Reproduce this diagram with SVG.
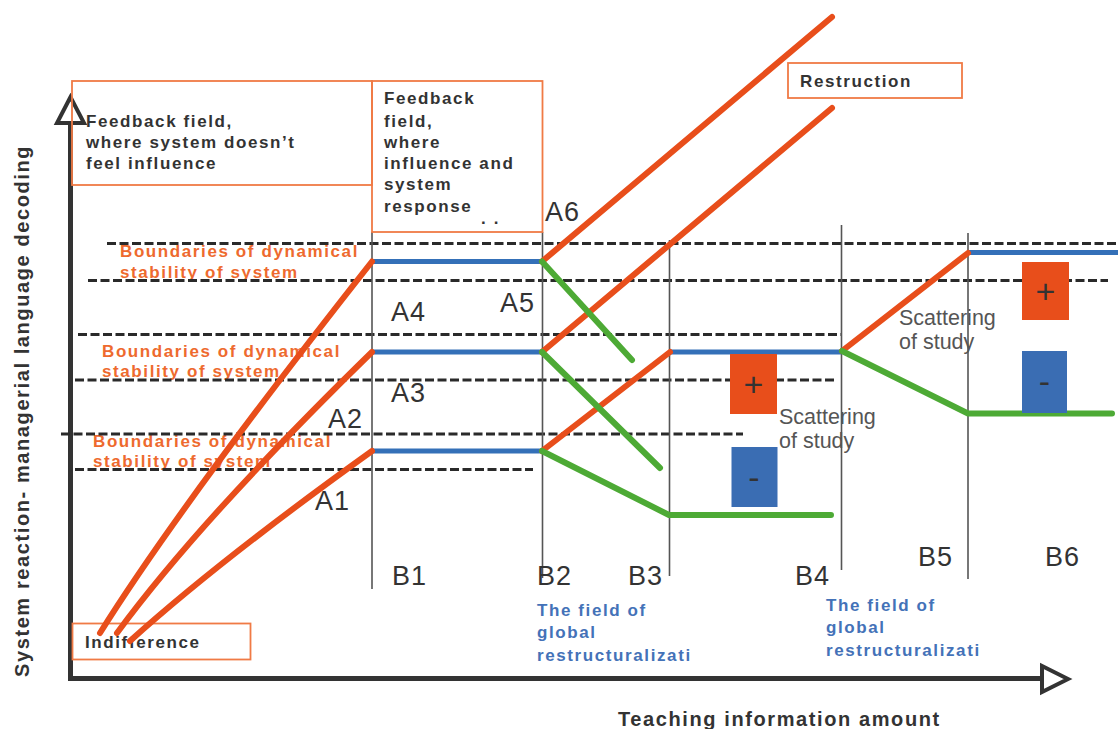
<svg xmlns="http://www.w3.org/2000/svg" width="1118" height="729" viewBox="0 0 1118 729">
<style>
.bg{fill:#fff}
.box{fill:none;stroke:#F07A45;stroke-width:1.8}
.bt{font-family:"Liberation Sans",Arial,sans-serif;font-weight:bold;font-size:17px;letter-spacing:1.6px;fill:#333}
.ot{font-family:"Liberation Sans",Arial,sans-serif;font-weight:bold;font-size:17px;letter-spacing:1.6px;fill:#EE6A2E}
.blt{font-family:"Liberation Sans",Arial,sans-serif;font-weight:bold;font-size:17px;letter-spacing:1.6px;fill:#4472B8}
.lab{font-family:"Liberation Sans",Arial,sans-serif;font-size:27px;letter-spacing:1px;fill:#333}
.sc{font-family:"Liberation Sans",Arial,sans-serif;font-size:21.5px;fill:#555}
.ax{font-family:"Liberation Sans",Arial,sans-serif;font-weight:bold;font-size:20px;letter-spacing:1.6px;fill:#333}
.pm{font-family:"Liberation Sans",Arial,sans-serif;font-size:34px;fill:#333;text-anchor:middle}
.dash{stroke:#2a2a2a;stroke-width:3.2;stroke-dasharray:9 3.5;fill:none}
.vl{stroke:#555;stroke-width:1.6;fill:none}
.or{stroke:#E84E1B;stroke-width:6;stroke-linecap:round;fill:none}
.bl{stroke:#3470B8;stroke-width:5;fill:none}
.gr{stroke:#4DAA35;stroke-width:6;stroke-linecap:round;stroke-linejoin:round;fill:none}
.axl{stroke:#333;stroke-width:5;fill:none}
.arr{fill:#fff;stroke:#333;stroke-width:4;stroke-linejoin:miter}
</style>
<rect class="bg" x="0" y="0" width="1118" height="729"/>

<g id="axes">
<line class="axl" x1="70.5" y1="120" x2="70.5" y2="681"/>
<line class="axl" x1="68" y1="678.5" x2="1042" y2="678.5"/>
<polygon class="arr" points="70.5,97 57,123 84,123"/>
<polygon class="arr" points="1068,679 1042,666 1042,692"/>
</g>

<g id="boundary-labels">
<text class="ot" x="120" y="257">Boundaries of dynamical</text>
<text class="ot" x="120" y="278">stability of system</text>
<text class="ot" x="102" y="357">Boundaries of dynamical</text>
<text class="ot" x="102" y="377">stability of system</text>
<text class="ot" x="93" y="447">Boundaries of dynamical</text>
<text class="ot" x="93" y="467">stability of system</text>
</g>

<g id="dashed-boundaries">
<line class="dash" x1="107" y1="243.5" x2="1118" y2="243.5"/>
<line class="dash" x1="88" y1="280.5" x2="1108" y2="280.5"/>
<line class="dash" x1="78" y1="334.5" x2="842" y2="334.5"/>
<line class="dash" x1="75" y1="380" x2="835" y2="380"/>
<line class="dash" x1="61" y1="434" x2="743" y2="434"/>
<line class="dash" x1="75" y1="469.5" x2="533" y2="469.5"/>
</g>

<g id="b-lines">
<line class="vl" x1="372" y1="232" x2="372" y2="589"/>
<line class="vl" x1="542.5" y1="232" x2="542.5" y2="578"/>
<line class="vl" x1="669.5" y1="240" x2="669.5" y2="576"/>
<line class="vl" x1="841.5" y1="225" x2="841.5" y2="570"/>
<line class="vl" x1="968" y1="233" x2="968" y2="579"/>
</g>

<g id="feedback-field-1">
<rect class="box" x="72" y="81" width="300" height="104"/>
<text class="bt" x="86" y="127">Feedback field,</text>
<text class="bt" x="86" y="148">where system doesn’t</text>
<text class="bt" x="86" y="169">feel influence</text>
</g>

<g id="feedback-field-2">
<rect class="box" x="372" y="81" width="170.5" height="151"/>
<text class="bt" x="384" y="104">Feedback</text>
<text class="bt" x="384" y="126.5">field,</text>
<text class="bt" x="384" y="147.5">where</text>
<text class="bt" x="384" y="169">influence and</text>
<text class="bt" x="384" y="190">system</text>
<text class="bt" x="384" y="211.5">response</text>
<text class="bt" x="481" y="224">. .</text>
</g>

<g id="restruction">
<rect class="box" x="788" y="63" width="174" height="35"/>
<text class="bt" x="800" y="87">Restruction</text>
</g>

<g id="indifference">
<rect class="box" x="72.5" y="623.5" width="178" height="36"/>
<text class="bt" x="85" y="648">Indifference</text>
</g>

<g id="connectors">
<line class="bl" x1="372" y1="261.5" x2="542" y2="261.5"/>
<line class="bl" x1="372" y1="352" x2="542" y2="352"/>
<line class="bl" x1="670" y1="352" x2="842" y2="352"/>
<line class="bl" x1="372" y1="451" x2="542" y2="451"/>
<line class="bl" x1="968" y1="252.5" x2="1118" y2="252.5"/>

<path class="or" d="M100,633 Q180,505 372,261.5"/>
<path class="or" d="M117,633 Q200,520 372,352"/>
<path class="or" d="M130,641 Q220,560 372,451"/>
<line class="or" x1="542" y1="261.5" x2="832" y2="17"/>
<line class="or" x1="542" y1="352" x2="832" y2="108"/>
<line class="or" x1="542" y1="451" x2="670" y2="352"/>
<line class="or" x1="842" y1="351" x2="968" y2="253"/>

<line class="gr" x1="542" y1="261.5" x2="632" y2="360"/>
<line class="gr" x1="542" y1="352" x2="660" y2="468"/>
<polyline class="gr" points="542,451 669,515 831,515"/>
<polyline class="gr" points="842,351 968,413.5 1112,413.5"/>
</g>

<g id="scatter-1">
<rect x="730" y="354" width="47" height="60" fill="#E84E1B"/>
<text class="pm" x="753.5" y="396">+</text>
<rect x="731.5" y="447" width="46" height="60" fill="#3A6DB3"/>
<text class="pm" x="754" y="489">-</text>
<text class="sc" x="779" y="424">Scattering</text>
<text class="sc" x="779" y="448">of study</text>
</g>

<g id="scatter-2">
<rect x="1022" y="262" width="47" height="58" fill="#E84E1B"/>
<text class="pm" x="1045.5" y="303">+</text>
<rect x="1022" y="351" width="45" height="62" fill="#3A6DB3"/>
<text class="pm" x="1044.5" y="393">-</text>
<text class="sc" x="899" y="325">Scattering</text>
<text class="sc" x="899" y="349">of study</text>
</g>

<g id="a-labels">
<text class="lab" x="315" y="510">A1</text>
<text class="lab" x="328" y="428">A2</text>
<text class="lab" x="391" y="402">A3</text>
<text class="lab" x="391" y="321">A4</text>
<text class="lab" x="500" y="312">A5</text>
<text class="lab" x="545" y="221">A6</text>
</g>

<g id="b-labels">
<text class="lab" x="392" y="585">B1</text>
<text class="lab" x="537" y="585">B2</text>
<text class="lab" x="628" y="585">B3</text>
<text class="lab" x="795" y="585">B4</text>
<text class="lab" x="918" y="566">B5</text>
<text class="lab" x="1045" y="566">B6</text>
</g>

<g id="global-field-1">
<text class="blt" x="537" y="616">The field of</text>
<text class="blt" x="537" y="638">global</text>
<text class="blt" x="537" y="661">restructuralizati</text>
</g>

<g id="global-field-2">
<text class="blt" x="826" y="611">The field of</text>
<text class="blt" x="826" y="633">global</text>
<text class="blt" x="826" y="656">restructuralizati</text>
</g>

<g id="axis-labels">
<text class="ax" x="618" y="726">Teaching information amount</text>
<text class="ax" transform="translate(29,677) rotate(-90)">System reaction- managerial language decoding</text>
</g>
</svg>
